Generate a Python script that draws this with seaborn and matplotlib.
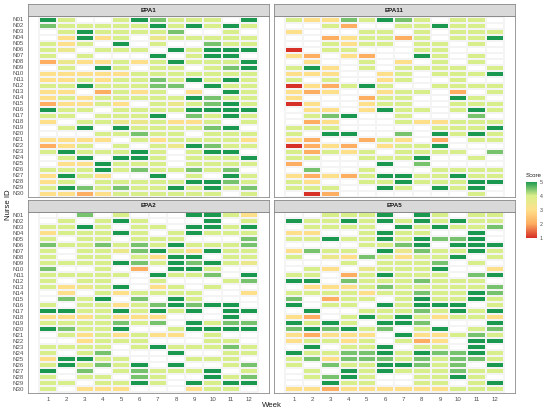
import numpy as np
import pandas as pd
import matplotlib
matplotlib.use("Agg")
import matplotlib.pyplot as plt
from matplotlib.colors import LinearSegmentedColormap
import seaborn as sns

na = np.nan

nurses = [f"N{i:02d}" for i in range(1, 31)]
weeks = list(range(1, 13))

# scores per nurse (rows N01..N30), columns = week 1..12
epa1 = [
    [5, 4, na, na, 4, 5, 4.5, 4, 4, 4, na, 5],
    [4.5, 4, 4, 4, 4, 4, 5, 4, 5, 4, 5, 4],
    [na, 4, 5, 4, 4, 4, 4, 4.5, na, na, 4, na],
    [na, 3, 5, 3, 4, na, 3.5, 4, 4, 4, 4, 4],
    [4, 3, 4, na, 5, na, 4, na, na, 4.5, 4, 4],
    [4, 3.5, na, 4, 4, 4, na, 5, 4, 5, 5, 5],
    [4, na, 4, na, na, na, 5, na, 4, 5, 5, na],
    [2, 3.5, 3, 3, 4, 3, 4, 5, 4, 4, 4, 5],
    [na, 4, na, 5, 4, na, 4, 4, na, 4, 4.5, 5],
    [3, 3, 3, 3, 3, 4, 4, 4, 4, 4, 4, 4],
    [3, 3, 4, 3, 4, 4, 4.5, 4, 5, 4, 5, 4],
    [4, 4, 5, 4, 4, 4, 4.5, 4.5, na, 5, 4, 4],
    [3, 3, na, 2, 4, 3, 4, na, 3, na, 5, 4],
    [3, 4, 3, 4, 4, 4, 4, 4, 5, 4.5, 4, 4],
    [2, 3, 3, 4, 3, na, 4, 3.5, 4, 4.5, 5, 4],
    [5, 4, 4, na, 4, 4, 4, 4, 5, 5, 5, 5],
    [4, 4, na, 4, 4, 4, 5, na, 4.5, 4, 5, 4],
    [3, na, 4, 4, 3.5, 3.5, 4, 3, 3, 4, na, 4],
    [na, 4, 5, na, 5, 4, 4, 4, 4, 4.5, 5, na],
    [na, na, na, 4, 4, 4.5, 4, 4, na, 4, 4, 4],
    [3, 3, 3, 3, na, 4, 3, 4, 4, 4, 4, 3],
    [2, 3, 4, na, 4, na, 4, 3.5, 5, 4.5, 4, 4],
    [4, 5, 4, 4, 4, 5, 4, na, 4, 5, 5, na],
    [na, 4, 5, na, 5, 5, 4, na, 4, 4, 4, 5],
    [na, 3, 3, 5, 4, 4, 4, na, 4, 4, 4, 4],
    [4, 4, 4, 5, 4, 4.5, 4, 4, 4.5, 4, 4.5, na],
    [3, 5, 4, 3, na, na, 5, na, 4, na, 5, 4],
    [3, 4, na, 4, 4, 4, 4, 4, 5, 5, 4.5, 4],
    [4, 5, 4.5, 4, 4.5, 4, 4, 5, 4, 5, 4, 4.5],
    [3, 3, 2, 3, 4, 4, 4, 4, 4, 4, na, 4],
]

epa11 = [
    [4, 3, 3, 4.5, 4, 5, 4.5, 4, na, 4, 4, na],
    [na, na, 4, 2, na, na, 4, 4, 5, 4, 4, na],
    [3, na, na, na, 4, 4, na, 4, na, 4, 4, 4],
    [na, na, 2, 3, 4, 4, 2, 4, na, 4, 4, 5],
    [na, na, 4, 3, 4, 4, na, 4, 4, na, 4, na],
    [1, na, 4, 4, na, na, na, 4, 4, na, na, na],
    [3, 2, na, 3, 2, na, na, 5, 4, na, 4, na],
    [na, 3, na, na, 4, na, 3, na, 4, na, 4, na],
    [4, 5, 3, na, 4, na, 4, 4, 4, 4, na, 4],
    [3, 3, 3, na, na, 3, 4, na, 4, 4, 4, 5],
    [4, na, 4, na, na, 3, 4, na, na, 4, na, na],
    [1, 3, 2, 4, 5, 4, na, na, 4, 4, 4, 4],
    [3, 2, 3, na, na, 3, 4, 4, na, 2, na, 4],
    [3, na, na, na, 2, 4, 4, na, na, 5, 4, na],
    [1, 3, na, na, 3, 4, 4, na, na, 4, 4, 4],
    [na, 3, 3, na, 3, 5, 4, 4, na, 4, 5, 4],
    [na, 4, 4.5, 5, na, na, 4, na, na, na, 4.5, na],
    [na, 2, 3, na, na, na, 4, 3, 3, 4, 4, 4],
    [4, 4, 4, na, na, na, na, na, 4, 4, 4, 5],
    [4, na, 5, 5, na, na, 4.5, na, 5, 4, 5, 4],
    [3, 2, na, na, 2, 4, 3, na, 2, na, 4, 4],
    [1, 2, 3, 2, na, 3, 4, 4, 5, na, na, na],
    [4, 2, 4, 3, 4, na, 4, 4, 4, 4, na, 4.5],
    [4, 4, na, na, 4, 4, 4, 5, na, na, 4, na],
    [2, na, na, na, na, 5, na, 4.5, na, na, na, na],
    [na, 4.5, na, na, 4, na, na, na, 4, 4, 4, 4],
    [3, 2, 3, 2, 4, 5, 5, 4, 4, 5, 4, 4],
    [4, 3, na, na, 4, 4, 5, 4, 4, 4, 5, 5],
    [4, 4, 4, na, na, 5, 4, na, 5, 4, 5, na],
    [na, 1, 2, na, na, na, na, na, na, na, 4, na],
]

epa2 = [
    [na, na, 4.5, na, 4, na, na, na, 5, 5, 4, 3],
    [na, 4, na, 4, 5, 4, na, na, na, 5, na, 4],
    [4, 4, 5, 4, na, 4, 4, na, 5, 5, 4, 5],
    [3, 4, 4, 4, 5, 4, na, 4, 5, 4, 4, 4],
    [4, na, 4, 4, na, 4, 4, 4, na, na, na, 4.5],
    [4.5, 4, 4, 4.5, 4, 4.5, 4, 5, 4, 4, 4, 4.5],
    [4, na, 4, 4, 3.5, 4.5, 5, 4, 3, 5, 4, 4],
    [4, na, 4, 4, na, 4, 3, 5, 5, na, 4, 4],
    [4, 4, 4, 4, 5, 4.5, 4, 5, 4.5, 5, 4, 3.5],
    [4.5, na, na, 4, na, 2, na, 5, 5, 4, na, na],
    [4, 4, 4, 4, 4, na, 5, 4, 4, 4.5, na, 5],
    [4, na, 4, 4, na, na, 4, na, na, na, 4, 4.5],
    [4, 3, 3.5, 4, 5, na, 3, 4, na, 4, na, na],
    [na, 3, na, 4, 3, 4, 4, 4, 4, na, na, 3],
    [na, 4.5, 4, 5, na, 4.5, na, 5, 4, na, na, na],
    [4, na, 4, 4, 3, 4, 4.5, 5, 4.5, 5, 5, na],
    [5, 5, 4, 4, 5, 4, 5, 4, 5, na, 5, 5],
    [3, 3, 3, 4, 3, 3, 3, na, na, na, 5, na],
    [4, 4, 4, 4, 4.5, 4, 4.5, na, 5, 4, 4.5, 4.5],
    [5, 4.5, 4, 4, 5, na, na, 4, 5, 5, 5, 5],
    [na, 4, 3, 4, 3, 4, 3, 3, na, 4, na, na],
    [na, na, 3, 4, 4, 4, na, na, na, 4, 4, na],
    [4, 4, 4, 4, na, 4, 5, 4, 4, 4, 4.5, 4],
    [4, na, 4, 4.5, na, na, na, 5, na, na, 4, 4],
    [3, 5, 5, 4, 4, na, na, na, 4, 4, 4, na],
    [4, 5, 4, 4.5, 4, 5, na, 5, na, na, 4, 4.5],
    [5, na, 4.5, na, 4, 4.5, 4, 4, 4, 5, na, 4],
    [4, na, 4, 4, na, 4.5, 4, na, na, 5, 4, 4.5],
    [4, 4, na, 4, 4, 5, 4, na, 5, 4, 5, 5],
    [4, na, 3, 3, 3, na, na, na, 3, 4, 4, na],
]

epa5 = [
    [na, na, 4, 4, 4, 5, na, 5, 4, na, 4, 4],
    [5, 4, 4, 5, 4, 5, 4, 5, 4, 5, 4, 4],
    [na, 4, 4, 4, 4, na, 5, 4, 5, 4, 4, 4.5],
    [3, 3, na, na, 4, 5, 4, 4, na, na, 5, na],
    [4, 4, 5, 4, 4, 5, 4, 5, 4.5, 4.5, 5, na],
    [na, na, na, na, 4, 4, 4.5, 5, na, 5, 5, 5],
    [3, 4.5, 4, 4, na, 5, 3.5, 4.5, 4, 4, 5, 4],
    [4, na, 3.5, 3, 4.5, 4, 3, 4, 4, 5, na, 4],
    [na, na, na, 4, na, 4, 4, 4, 4.5, na, 4, na],
    [na, 4, 3, na, 3.5, 4, 4, 4, 5, na, na, 3],
    [4, 4, na, 2, 4, 5, 4, 4, 4, na, 4.5, 5],
    [5, 5, na, 4.5, 4, 4, 4, 4.5, 4, 4, 4, na],
    [na, 3, 3, 3, 4, 4.5, 4, 4, 4, 4, 4, 4.5],
    [4, 4, 4, 4, 3, 4, 4, 4.5, 4, 4, 5, 4.5],
    [4.5, na, 2, 4, 4, na, 4, 5, 4, 4, 5, 4],
    [5, na, 4, 4, na, 5, 4, 5, 5, 5, na, 4],
    [na, 5, na, na, 4, 4, 4, 4.5, 4, 5, 4, 5],
    [3, 2, na, 4, 5, 4, 5, 4, 3, 4, 4, 3],
    [5, 4, 5, 4, na, 5, 5, 4.5, na, na, na, 5],
    [4.5, 5, 4.5, 5, 4, 4.5, na, 4, 5, na, 4, 4.5],
    [3, 2, 3, 3, 3, na, 5, 3, 3, 4, 4.5, 4],
    [3, 4, 4, 3, 4, na, 4, 2, 3, na, 5, 5],
    [na, 5, na, 4, 4, 5, na, 4, 4, na, 5, na],
    [5, 4, 4, 4.5, 4.5, 5, 4, 5, 4.5, 4.5, 5, 4],
    [4, 4.5, 3, 4.5, 4.5, 4.5, 4, 4.5, 4, 4.5, 4.5, 4],
    [4, na, 4.5, 4, 4, 5, 5, 4.5, 4, 4.5, na, 5],
    [na, 4, na, 5, 4, 5, 4, 4, 4, 4.5, 4, 4],
    [na, 4, 4.5, 5, 4, na, na, 4, 4, 5, 4, na],
    [na, na, 5, 4, 4, na, na, 4, 4, na, 4, 5],
    [3, 3, 2, 3, 3, 3, 3, 3, 3, 4, 4, 4],
]

sns.set_style("white")
plt.rcParams['font.family'] = ['Liberation Sans', 'DejaVu Sans']

cmap = LinearSegmentedColormap.from_list(
    "score", [(0, "#d73027"), (0.25, "#fdae61"), (0.5, "#fee08b"),
              (0.75, "#d9ef8b"), (1, "#1a9850")])

W, H = 550, 415
fig = plt.figure(figsize=(5.5, 4.15), dpi=100)


def px_axes(x0, y0, x1, y1):
    return fig.add_axes([x0 / W, 1 - y1 / H, (x1 - x0) / W, (y1 - y0) / H])


border = "#8a8a8a"
txt = "#4d4d4d"

# (title, data, x0, x1, y0, y1, show y labels, show x labels)
panels = [
    ("EPA1", epa1, 28, 269.3, 16, 197.3, True, False),
    ("EPA11", epa11, 273.7, 515, 16, 197.3, False, False),
    ("EPA2", epa2, 28, 269.3, 211.7, 393, True, True),
    ("EPA5", epa5, 273.7, 515, 211.7, 393, False, True),
]

mappable = None
for title, vals, x0, x1, y0, y1, show_y, show_x in panels:
    df = pd.DataFrame(vals, index=nurses, columns=weeks)
    ax = px_axes(x0, y0, x1, y1)
    sns.heatmap(df, ax=ax, cmap=cmap, vmin=1, vmax=5, cbar=False,
                linewidths=0.15, linecolor="#f4f4f4",
                xticklabels=True, yticklabels=True)
    mappable = ax.collections[0]
    ax.set_xlim(-0.6, 12.6)
    ax.set_ylim(30.1, -0.1)
    ax.set_xlabel("")
    ax.set_ylabel("")
    for s in ax.spines.values():
        s.set_visible(True)
        s.set_color(border)
        s.set_linewidth(0.6)
    ax.tick_params(axis="both", length=2, width=0.5, color=txt,
                   labelsize=4.4, labelcolor=txt, pad=1)
    plt.setp(ax.get_yticklabels(), rotation=0)
    plt.setp(ax.get_xticklabels(), rotation=0)
    if not show_y:
        ax.tick_params(axis="y", left=False, labelleft=False)
    if not show_x:
        ax.tick_params(axis="x", bottom=False, labelbottom=False)

    # facet strip
    sax = px_axes(x0, y0 - 12, x1, y0)
    sax.set_facecolor("#d9d9d9")
    sax.set_xticks([])
    sax.set_yticks([])
    for s in sax.spines.values():
        s.set_visible(True)
        s.set_color(border)
        s.set_linewidth(0.6)
    sax.text(0.5, 0.5, title, ha="center", va="center", fontsize=4.5,
             fontweight="bold", color="#1a1a1a", transform=sax.transAxes)

# colour bar legend
cax = px_axes(526, 181.7, 536.7, 237.7)
cb = fig.colorbar(mappable, cax=cax, ticks=[1, 2, 3, 4, 5])
cb.outline.set_visible(False)
cax.tick_params(length=0, labelsize=3.8, labelcolor=txt, pad=2)
fig.text(526 / W, 1 - 175.5 / H, "Score", fontsize=4.4, ha="left",
         va="center", color="#1a1a1a")

fig.text(271.5 / W, 1 - 405.5 / H, "Week", fontsize=5.6, ha="center",
         va="center", color="#1a1a1a")
fig.text(8 / W, 1 - 205 / H, "Nurse ID", fontsize=5.6, ha="center",
         va="center", rotation=90, color="#1a1a1a")

fig.savefig("out.png", dpi=100)
